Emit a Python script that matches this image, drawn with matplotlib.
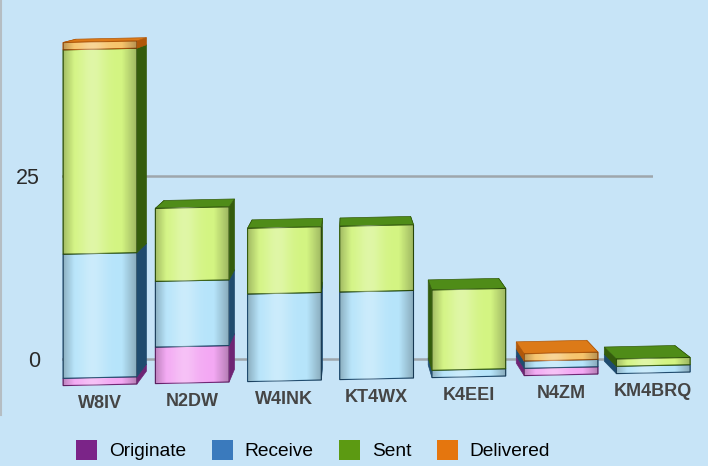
import numpy as np
import matplotlib.pyplot as plt
from matplotlib.patches import Polygon, Patch
from matplotlib.transforms import Affine2D

# data
categories = ["W8IV", "N2DW", "W4INK", "KT4WX", "K4EEI", "N4ZM", "KM4BRQ"]
series = ["Originate", "Receive", "Sent", "Delivered"]
originate = [1, 5, 0, 0, 0, 1, 0]
receive = [17, 9, 12, 12, 1, 1, 1]
sent = [28, 10, 9, 9, 11, 0, 1]
delivered = [1, 0, 0, 0, 0, 1, 0]
y_ticks = [0, 25]

legend_colors = ["#7b2488", "#3a7abd", "#5c9a12", "#e5760e"]
front_colors = ["#f3a8f3", "#b6e4fa", "#d3f482", "#f6c46c"]
side_colors = ["#6e2474", "#1f4b6e", "#345c0c", "#b0580a"]
top_colors = ["#b050b8", "#4a86b8", "#4f8c18", "#dc7a18"]

plt.rcParams["font.family"] = ["Liberation Sans", "DejaVu Sans"]

fig = plt.figure(figsize=(7.08, 4.66), dpi=100)
fig.patch.set_facecolor("#c7e4f7")

# back wall: value grid and tick labels
wall = fig.add_axes([62 / 708, 51 / 466, 591 / 708, 415 / 466])
wall.set_facecolor("none")
wall.set_ylim(-7.65, 49.05)
wall.set_yticks(y_ticks)
wall.set_xticks([])
wall.grid(axis="y", color="#9ea6ac", lw=1.8)
wall.tick_params(axis="y", length=0, pad=16, labelsize=15.5, labelcolor="#2a2a2a")
for sp in wall.spines.values():
    sp.set_visible(False)

# bars in front of the wall
ax = fig.add_axes([1 / 708, 51 / 466, 707 / 708, 415 / 466])
ax.set_facecolor("none")
ax.set_xticks([])
ax.set_yticks([])
for name in ["top", "right", "bottom"]:
    ax.spines[name].set_visible(False)
ax.spines["left"].set_color("#b5bdc3")
ax.spines["left"].set_linewidth(1.5)

# floor rises slightly to the right
skew = Affine2D().translate(-92, 0).skew(0, np.arctan(0.0217)).translate(92, 0)
tr = ax.transData + skew

# simple depth: back face pulled toward a vanishing point
kx, xv = 0.045, 2.7
ky, yv = 0.028, 62


def back(px, py):
    return px + kx * (xv - px), py + ky * (yv - py)


x = np.arange(len(categories))
width = 0.8
values = np.array([originate, receive, sent, delivered], dtype=float)
bottoms = np.vstack([np.zeros(len(categories)), np.cumsum(values, axis=0)[:-1]])

for i in x:
    x0, x1 = i - width / 2, i + width / 2
    for s in range(len(series)):
        h = values[s, i]
        if h == 0:
            continue
        y0 = bottoms[s, i]
        y1 = y0 + h
        for xe in (x0, x1):
            quad = [(xe, y0), (xe, y1), back(xe, y1), back(xe, y0)]
            ax.add_patch(Polygon(quad, closed=True, fc=side_colors[s], ec=side_colors[s],
                                 lw=0.5, transform=tr, zorder=2))
        top = [(x0, y1), (x1, y1), back(x1, y1), back(x0, y1)]
        ax.add_patch(Polygon(top, closed=True, fc=top_colors[s], ec=side_colors[s],
                             lw=0.5, transform=tr, zorder=2))

# horizontal shading so the fronts look rounded
u = np.linspace(0, 1, 64)
shade = np.zeros((1, 64, 4))
dark = np.clip(1 - u / 0.15, 0, 1) * 0.22 + np.clip((u - 0.8) / 0.2, 0, 1) * 0.25
light = np.exp(-((u - 0.4) / 0.18) ** 2) * 0.3
shade[0, :, :3] = (light / (light + dark + 1e-9))[:, None]
shade[0, :, 3] = light + dark

for s in range(len(series)):
    bars = ax.bar(x, values[s], width, bottom=bottoms[s], color=front_colors[s],
                  edgecolor=side_colors[s], lw=0.8, zorder=3)
    for xi, p, h in zip(x, bars.patches, values[s]):
        p.set_transform(tr)
        if h == 0:
            p.set_visible(False)
            continue
        y0 = bottoms[s, xi]
        im = ax.imshow(shade, extent=[xi - width / 2, xi + width / 2, y0, y0 + h],
                       transform=tr, aspect="auto", interpolation="bilinear", zorder=3.5)
        im.set_clip_path(p)

ax.set_xlim(-1.074, 6.594)
ax.set_ylim(-4.11, 52.74)

for i, name in zip(x, categories):
    ax.text(i, -2.6, name, transform=tr, ha="center", va="center",
            fontsize=13, color="#454545", fontweight="bold")

handles = [Patch(facecolor=c, edgecolor="none") for c in legend_colors]
fig.legend(handles, series, loc="center", bbox_to_anchor=(313 / 708, 1 - 450 / 466),
           ncol=4, frameon=False, fontsize=13.8, handlelength=1.1, handleheight=1.3,
           handletextpad=0.6, columnspacing=1.35)

fig.savefig("out.png", dpi=100, facecolor=fig.get_facecolor())
